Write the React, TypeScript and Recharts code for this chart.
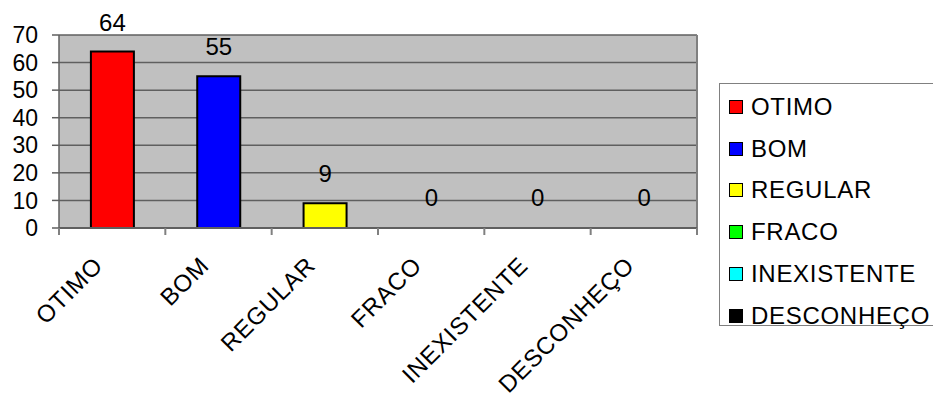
import React from 'react';
import { BarChart, Bar, XAxis, YAxis, CartesianGrid, LabelList, Cell } from 'recharts';

const categories = ['OTIMO', 'BOM', 'REGULAR', 'FRACO', 'INEXISTENTE', 'DESCONHEÇO'];
const values = [64, 55, 9, 0, 0, 0];
const colors = ['#FF0000', '#0000FF', '#FFFF00', '#00FF00', '#00FFFF', '#000000'];
const yTicks = [0, 10, 20, 30, 40, 50, 60, 70];

const FONT = '"Liberation Sans", Arial, sans-serif';

// plot frame
const PLOT_LEFT = 59;
const PLOT_RIGHT = 697;
const STEP = (PLOT_RIGHT - PLOT_LEFT) / categories.length;

const data = categories.map((name, i) => ({ name, value: values[i] }));

// rotated category label + tick marks on the category boundaries
const XTick = (props: any) => {
    const { x, y, payload, index } = props;
    const left = x - STEP / 2;
    const right = x + STEP / 2;
    return (
        <g>
            <line x1={left} x2={left} y1={y} y2={y + 7} stroke="#808080" strokeWidth={2} />
            {index === categories.length - 1 && (
                <line x1={right} x2={right} y1={y} y2={y + 7} stroke="#808080" strokeWidth={2} />
            )}
            <g transform={`translate(${x - 8},${y + 39})`}>
                <text transform="rotate(-45)" textAnchor="end" fontSize={24} fill="#000" fontFamily={FONT} letterSpacing={0.8}>
                    {payload.value}
                </text>
            </g>
        </g>
    );
};

const LegendBox = () => (
    <div
        style={{
            position: 'absolute',
            left: 719,
            top: 83,
            width: 221,
            height: 243,
            border: '1.5px solid #808080',
            boxSizing: 'border-box',
            background: '#fff',
        }}
    >
        {categories.map((name, i) => (
            <div key={name} style={{ position: 'absolute', left: 9, top: 9 + i * 41.7, height: 28, display: 'flex', alignItems: 'center' }}>
                <span
                    style={{
                        display: 'inline-block',
                        width: 12,
                        height: 12,
                        background: colors[i],
                        border: '1.5px solid #000',
                        marginRight: 8,
                    }}
                />
                <span style={{ fontSize: 24, fontFamily: FONT, color: '#000', letterSpacing: 0.7, whiteSpace: 'nowrap' }}>{name}</span>
            </div>
        ))}
    </div>
);

export default function App() {
    return (
        <div style={{ position: 'relative', width: 941, height: 403, margin: -8, background: '#fff', fontFamily: FONT }}>
            <BarChart width={941} height={403} data={data} margin={{ top: 35, right: 941 - PLOT_RIGHT, bottom: 5, left: 0 }} barCategoryGap="30%">
                <CartesianGrid vertical={false} stroke="#5f5f5f" strokeWidth={1.5} fill="#C0C0C0" fillOpacity={1} />
                <CartesianGrid horizontal={false} verticalPoints={[PLOT_RIGHT]} stroke="#808080" strokeWidth={2} />
                <XAxis
                    dataKey="name"
                    height={170}
                    axisLine={{ stroke: '#5f5f5f', strokeWidth: 2 }}
                    tickLine={false}
                    tickSize={0}
                    tickMargin={0}
                    interval={0}
                    tick={<XTick />}
                />
                <YAxis
                    domain={[0, 70]}
                    ticks={yTicks}
                    width={PLOT_LEFT}
                    tickSize={7}
                    tickMargin={14}
                    interval={0}
                    tick={{ fill: '#000', fontSize: 23, fontFamily: FONT }}
                    tickLine={{ stroke: '#5f5f5f', strokeWidth: 1.5 }}
                    axisLine={{ stroke: '#5f5f5f', strokeWidth: 1.5 }}
                />
                <Bar dataKey="value" minPointSize={1} isAnimationActive={false}>
                    {data.map((d, i) => (
                        <Cell
                            key={d.name}
                            fill={d.value > 0 ? colors[i] : 'none'}
                            stroke={d.value > 0 ? '#000' : 'none'}
                            strokeWidth={2}
                        />
                    ))}
                    <LabelList dataKey="value" position="top" offset={21} fill="#000" fontSize={24} fontFamily={FONT} />
                </Bar>
            </BarChart>
            <LegendBox />
        </div>
    );
}
